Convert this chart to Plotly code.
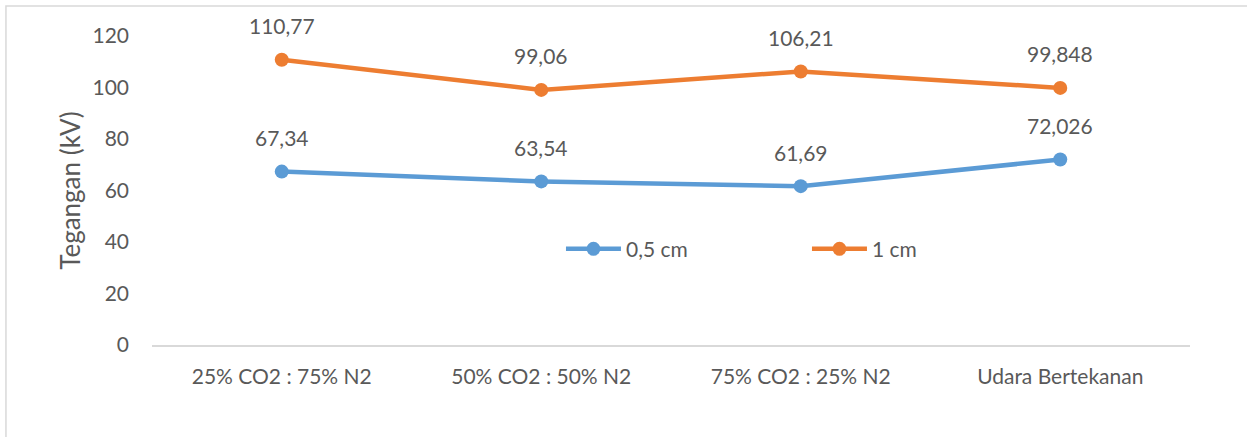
import plotly.graph_objects as go

categories = ["25% CO2 : 75% N2", "50% CO2 : 50% N2", "75% CO2 : 25% N2", "Udara Bertekanan"]
values_05cm = [67.34, 63.54, 61.69, 72.026]
values_1cm = [110.77, 99.06, 106.21, 99.848]
labels_05cm = ["67,34", "63,54", "61,69", "72,026"]
labels_1cm = ["110,77", "99,06", "106,21", "99,848"]
y_ticks = [0, 20, 40, 60, 80, 100, 120]

BLUE = "#5B9BD5"
ORANGE = "#ED7D31"
TEXT = "#595959"
FONT = "Lato"
SIZE = 21

fig = go.Figure()
fig.add_trace(go.Scatter(
    x=categories, y=values_05cm, name="0,5 cm", mode="lines+markers",
    line=dict(color=BLUE, width=4.5), marker=dict(color=BLUE, size=14),
))
fig.add_trace(go.Scatter(
    x=categories, y=values_1cm, name="1 cm", mode="lines+markers",
    line=dict(color=ORANGE, width=4.5), marker=dict(color=ORANGE, size=14),
))

annotations = []
for cat, v, t in zip(categories, values_05cm, labels_05cm):
    annotations.append(dict(x=cat, y=v, text=t, showarrow=False, yshift=34,
                            font=dict(family=FONT, size=SIZE, color=TEXT)))
for cat, v, t in zip(categories, values_1cm, labels_1cm):
    annotations.append(dict(x=cat, y=v, text=t, showarrow=False, yshift=34,
                            font=dict(family=FONT, size=SIZE, color=TEXT)))

fig.update_layout(
    width=1247, height=437,
    margin=dict(l=152, r=57, t=36, b=92),
    paper_bgcolor="white", plot_bgcolor="white",
    font=dict(family=FONT, size=SIZE, color=TEXT),
    showlegend=True,
    legend=dict(orientation="h", x=0.394, y=0.31, xanchor="left", yanchor="middle",
                itemwidth=55, entrywidth=176, entrywidthmode="pixels",
                font=dict(family=FONT, size=SIZE, color=TEXT), bgcolor="rgba(0,0,0,0)"),
    annotations=annotations,
    shapes=[dict(type="rect", xref="paper", yref="paper",
                 x0=-0.1407, x1=1.3, y0=-0.6, y1=1.097,
                 line=dict(color="#D9D9D9", width=1.5), layer="below")],
)
fig.update_xaxes(
    type="category", range=[-0.5, 3.5], showgrid=False, zeroline=False,
    showline=True, linecolor="#D9D9D9", linewidth=1.5,
    ticks="", ticklabelstandoff=12,
    tickfont=dict(family=FONT, size=SIZE, color=TEXT),
)
fig.update_yaxes(
    range=[0, 120], tickvals=y_ticks, showgrid=False, zeroline=False,
    showline=False, ticks="", ticklabelstandoff=22,
    tickfont=dict(family=FONT, size=SIZE, color=TEXT),
    title=dict(text="Tegangan (kV)", font=dict(family=FONT, size=26, color=TEXT), standoff=4),
)

fig.write_html("out.html")
